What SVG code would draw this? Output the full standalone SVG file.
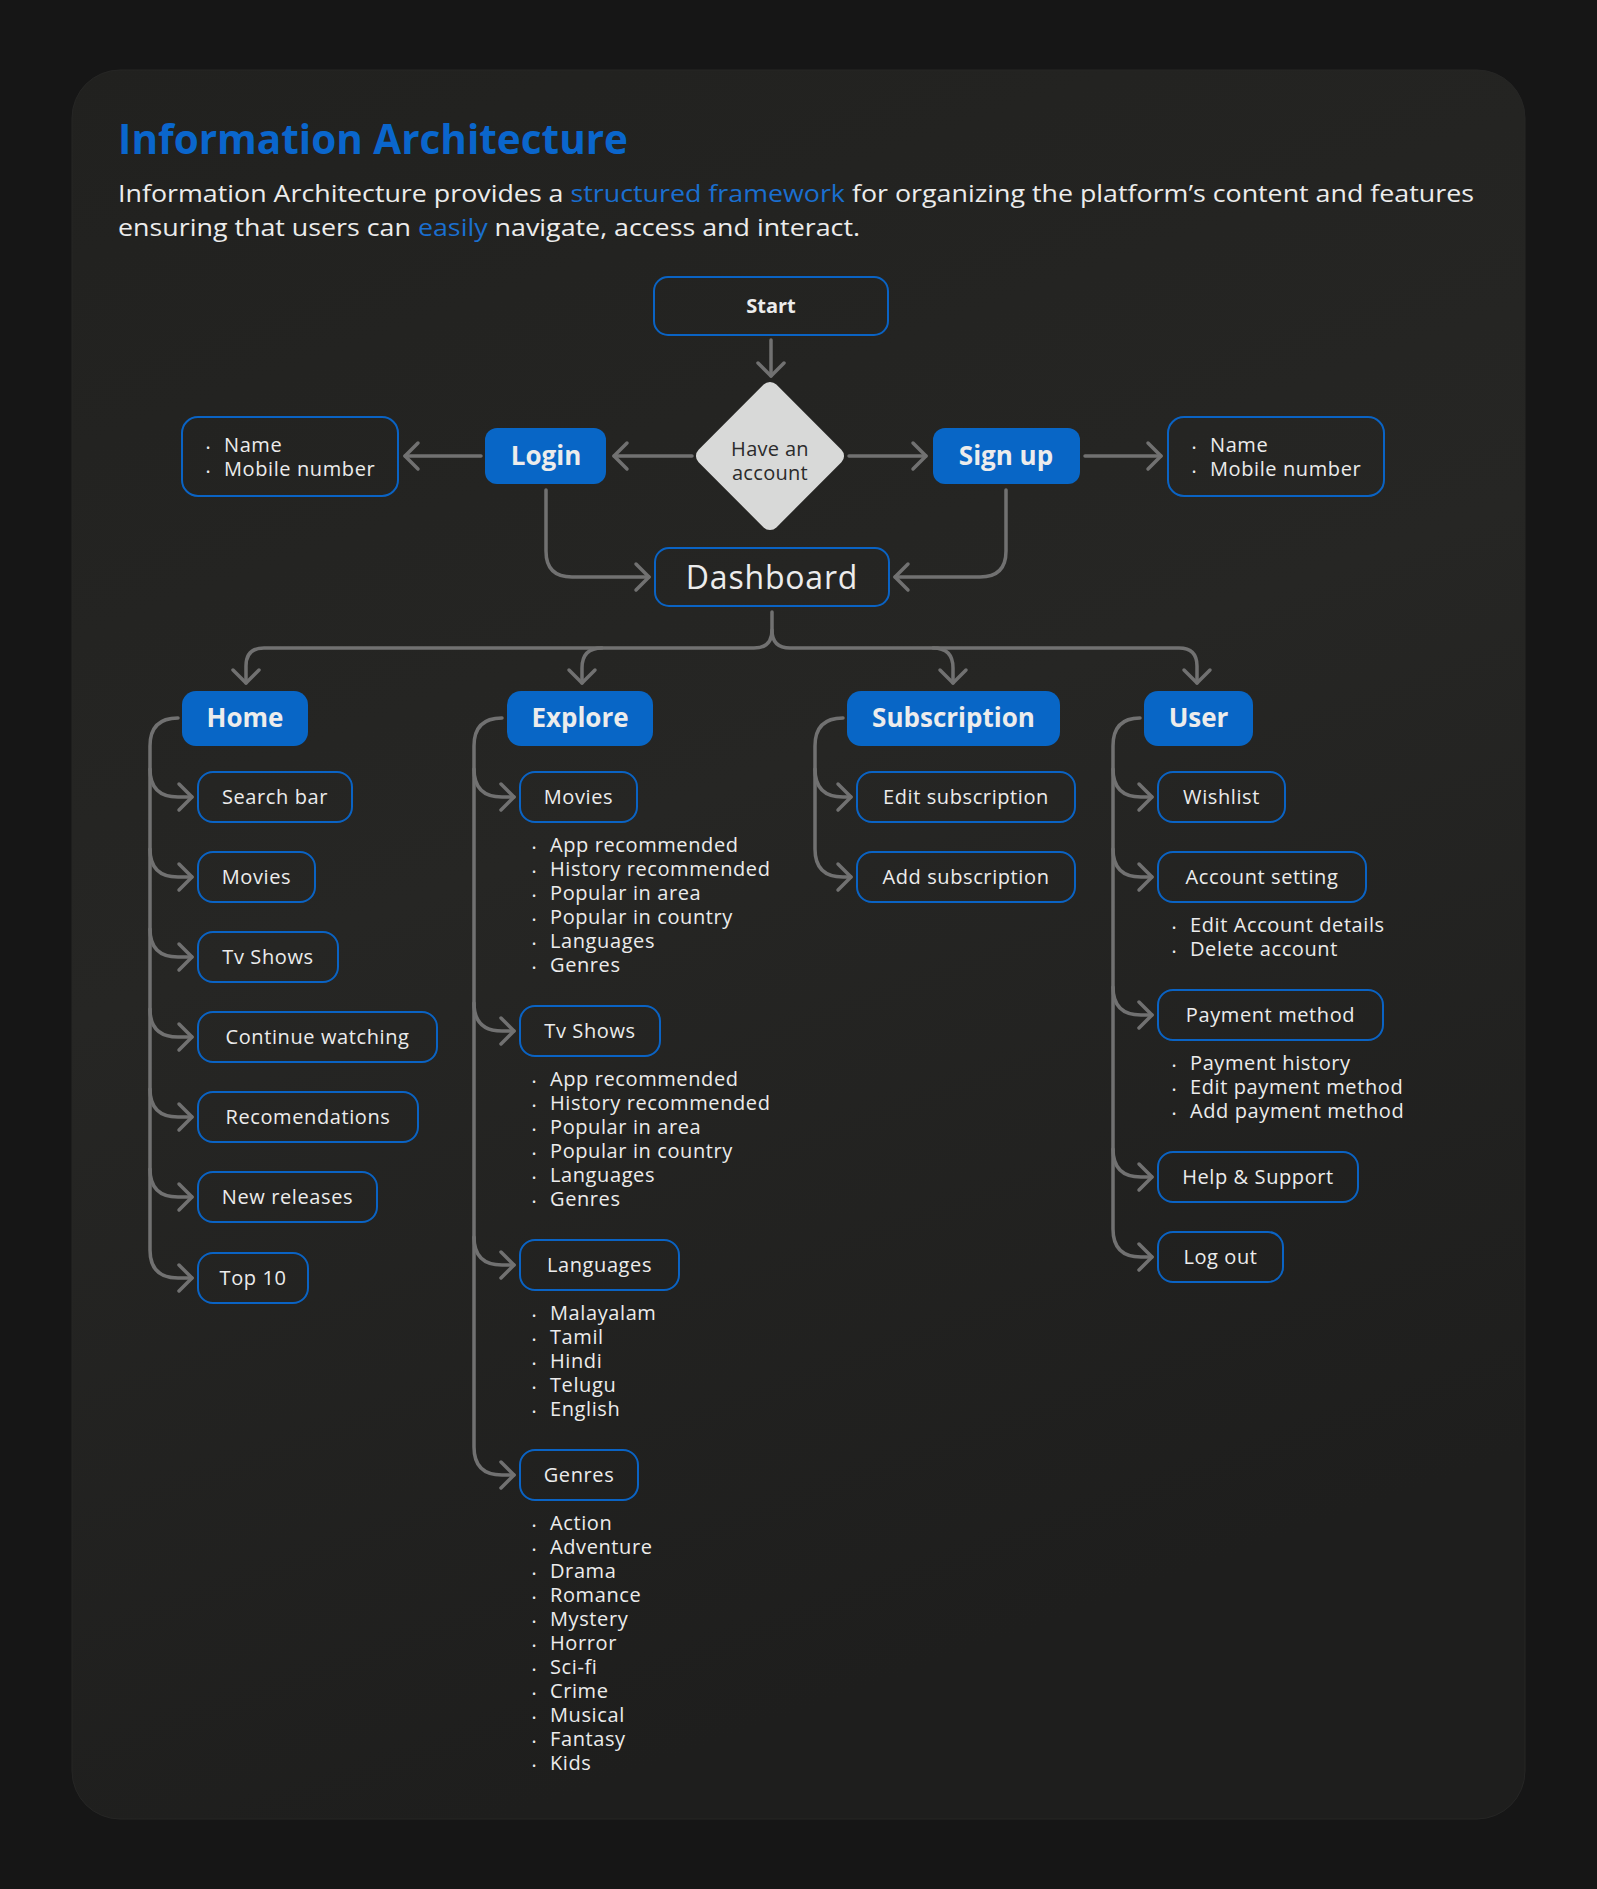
<svg xmlns="http://www.w3.org/2000/svg" width="1597" height="1889" viewBox="0 0 1597 1889">
<defs>
<linearGradient id="cardg" x1="0" y1="0" x2="0.3" y2="1">
<stop offset="0" stop-color="#21211f"/>
<stop offset="0.5" stop-color="#262624"/>
<stop offset="1" stop-color="#1e1e1d"/>
</linearGradient>
<marker id="ar" viewBox="-16 -16 20 32" refX="0" refY="0" markerWidth="20" markerHeight="32" orient="auto" markerUnits="userSpaceOnUse">
<path d="M-13,-13 L0,0 L-13,13" fill="none" stroke="#717171" stroke-width="3.5" stroke-linecap="round" stroke-linejoin="round"/>
</marker>
<style>
.bx{fill:none;stroke:#0a63c4;stroke-width:2}
.hd{fill:#0866c6}
.t{font-family:"Open Sans","Liberation Sans",sans-serif;fill:#ececec;font-size:20px;letter-spacing:0.6px}
.c{text-anchor:middle}
.b{font-weight:700;letter-spacing:0}
.h{font-size:26px}
.dot{font-size:11px}
.cn{fill:none;stroke:#717171;stroke-width:3.5;stroke-linecap:round;stroke-linejoin:round}
.ca{marker-end:url(#ar)}
.bl{fill:#1a6fd0}
.sub{font-size:24px;letter-spacing:0}
</style>
</defs>
<rect x="0" y="0" width="1597" height="1889" fill="#161616"/>
<rect x="72" y="70" width="1453" height="1749" rx="48" fill="url(#cardg)" stroke="#262625" stroke-width="1"/>

<g id="header">
<text class="t b" x="118" y="154" style="fill:#0a66cc;font-size:42px" textLength="510" lengthAdjust="spacingAndGlyphs">Information Architecture</text>
<text class="t sub" x="118" y="202" textLength="1356" lengthAdjust="spacingAndGlyphs">Information Architecture provides a <tspan class="bl">structured framework</tspan> for organizing the platform’s content and features</text>
<text class="t sub" x="118" y="236" textLength="742" lengthAdjust="spacingAndGlyphs">ensuring that users can <tspan class="bl">easily</tspan> navigate, access and interact.</text>
</g>

<g id="connectors">
<path class="cn ca" d="M771,340 V376"/>
<path class="cn ca" d="M692,456 H614"/>
<path class="cn ca" d="M481,456 H405"/>
<path class="cn ca" d="M849,456 H926"/>
<path class="cn ca" d="M1085,456 H1161"/>
<path class="cn ca" d="M546,490 V551 Q546,577 572,577 H649"/>
<path class="cn ca" d="M1006,490 V551 Q1006,577 980,577 H895"/>
<path class="cn ca" d="M772,612 V630 Q772,648 754,648 H264 Q246,648 246,666 V683"/>
<path class="cn ca" d="M772,630 Q772,648 790,648 H1179 Q1197,648 1197,666 V683"/>
<path class="cn ca" d="M602,648 Q582,648 582,668 V683"/>
<path class="cn ca" d="M933,648 Q953,648 953,668 V683"/>
<path class="cn ca" d="M178,718 Q150,718 150,746 V1250 Q150,1278 178,1278 H192"/>
<path class="cn ca" d="M150,769 Q150,797 178,797 H192"/>
<path class="cn ca" d="M150,849 Q150,877 178,877 H192"/>
<path class="cn ca" d="M150,929 Q150,957 178,957 H192"/>
<path class="cn ca" d="M150,1009 Q150,1037 178,1037 H192"/>
<path class="cn ca" d="M150,1089 Q150,1117 178,1117 H192"/>
<path class="cn ca" d="M150,1169 Q150,1197 178,1197 H192"/>
<path class="cn ca" d="M502,718 Q474,718 474,746 V1447 Q474,1475 502,1475 H514"/>
<path class="cn ca" d="M474,769 Q474,797 502,797 H514"/>
<path class="cn ca" d="M474,1003 Q474,1031 502,1031 H514"/>
<path class="cn ca" d="M474,1237 Q474,1265 502,1265 H514"/>
<path class="cn ca" d="M843,718 Q815,718 815,746 V849 Q815,877 843,877 H851"/>
<path class="cn ca" d="M815,769 Q815,797 843,797 H851"/>
<path class="cn ca" d="M1140,718 Q1113,718 1113,746 V1229 Q1113,1257 1141,1257 H1152"/>
<path class="cn ca" d="M1113,769 Q1113,797 1141,797 H1152"/>
<path class="cn ca" d="M1113,849 Q1113,877 1141,877 H1152"/>
<path class="cn ca" d="M1113,987 Q1113,1015 1141,1015 H1152"/>
<path class="cn ca" d="M1113,1149 Q1113,1177 1141,1177 H1152"/>
</g>

<g id="start"><rect class="bx" x="654" y="277" width="234" height="58" rx="14"/><text class="t b c" x="771" y="313">Start</text></g>
<g id="decision"><rect x="-55" y="-55" width="110" height="110" rx="9" fill="#d8d9d8" transform="translate(770,456) rotate(45)"/>
<text class="t c" x="770" y="456" style="fill:#2b2b2b;letter-spacing:0.3px">Have an</text><text class="t c" x="770" y="480" style="fill:#2b2b2b;letter-spacing:0.3px">account</text></g>
<g id="login"><rect class="hd" x="485" y="428" width="121" height="56" rx="12"/><text class="t b c h" x="546" y="465">Login</text></g>
<g id="signup"><rect class="hd" x="933" y="428" width="147" height="56" rx="12"/><text class="t b c h" x="1006" y="465">Sign up</text></g>
<g id="login-fields"><rect class="bx" x="182" y="417" width="216" height="79" rx="16"/>
<text class="t" x="206" y="452"><tspan class="dot">•</tspan><tspan x="224">Name</tspan></text>
<text class="t" x="206" y="476"><tspan class="dot">•</tspan><tspan x="224">Mobile number</tspan></text></g>
<g id="signup-fields"><rect class="bx" x="1168" y="417" width="216" height="79" rx="16"/>
<text class="t" x="1192" y="452"><tspan class="dot">•</tspan><tspan x="1210">Name</tspan></text>
<text class="t" x="1192" y="476"><tspan class="dot">•</tspan><tspan x="1210">Mobile number</tspan></text></g>
<g id="dashboard"><rect class="bx" x="655" y="548" width="234" height="58" rx="14"/><text class="t c" x="772" y="589" style="font-size:32px;letter-spacing:0.8px">Dashboard</text></g>

<g id="home"><rect class="hd" x="182" y="691" width="126" height="55" rx="14"/><text class="t b c h" x="245" y="727">Home</text></g>
<g id="home-search"><rect class="bx" x="198" y="772" width="154" height="50" rx="15"/><text class="t c" x="275" y="804">Search bar</text></g>
<g id="home-movies"><rect class="bx" x="198" y="852" width="117" height="50" rx="15"/><text class="t c" x="256.5" y="884">Movies</text></g>
<g id="home-tv"><rect class="bx" x="198" y="932" width="140" height="50" rx="15"/><text class="t c" x="268" y="964">Tv Shows</text></g>
<g id="home-continue"><rect class="bx" x="198" y="1012" width="239" height="50" rx="15"/><text class="t c" x="317.5" y="1044">Continue watching</text></g>
<g id="home-recom"><rect class="bx" x="198" y="1092" width="220" height="50" rx="15"/><text class="t c" x="308" y="1124">Recomendations</text></g>
<g id="home-new"><rect class="bx" x="198" y="1172" width="179" height="50" rx="15"/><text class="t c" x="287.5" y="1204">New releases</text></g>
<g id="home-top"><rect class="bx" x="198" y="1253" width="110" height="50" rx="15"/><text class="t c" x="253" y="1285">Top 10</text></g>

<g id="explore"><rect class="hd" x="507" y="691" width="146" height="55" rx="14"/><text class="t b c h" x="580" y="727">Explore</text></g>
<g id="explore-movies"><rect class="bx" x="520" y="772" width="117" height="50" rx="15"/><text class="t c" x="578.5" y="804">Movies</text>
<text class="t" x="532" y="852"><tspan class="dot">•</tspan><tspan x="550">App recommended</tspan></text>
<text class="t" x="532" y="876"><tspan class="dot">•</tspan><tspan x="550">History recommended</tspan></text>
<text class="t" x="532" y="900"><tspan class="dot">•</tspan><tspan x="550">Popular in area</tspan></text>
<text class="t" x="532" y="924"><tspan class="dot">•</tspan><tspan x="550">Popular in country</tspan></text>
<text class="t" x="532" y="948"><tspan class="dot">•</tspan><tspan x="550">Languages</tspan></text>
<text class="t" x="532" y="972"><tspan class="dot">•</tspan><tspan x="550">Genres</tspan></text></g>
<g id="explore-tv"><rect class="bx" x="520" y="1006" width="140" height="50" rx="15"/><text class="t c" x="590" y="1038">Tv Shows</text>
<text class="t" x="532" y="1086"><tspan class="dot">•</tspan><tspan x="550">App recommended</tspan></text>
<text class="t" x="532" y="1110"><tspan class="dot">•</tspan><tspan x="550">History recommended</tspan></text>
<text class="t" x="532" y="1134"><tspan class="dot">•</tspan><tspan x="550">Popular in area</tspan></text>
<text class="t" x="532" y="1158"><tspan class="dot">•</tspan><tspan x="550">Popular in country</tspan></text>
<text class="t" x="532" y="1182"><tspan class="dot">•</tspan><tspan x="550">Languages</tspan></text>
<text class="t" x="532" y="1206"><tspan class="dot">•</tspan><tspan x="550">Genres</tspan></text></g>
<g id="explore-languages"><rect class="bx" x="520" y="1240" width="159" height="50" rx="15"/><text class="t c" x="599.5" y="1272">Languages</text>
<text class="t" x="532" y="1320"><tspan class="dot">•</tspan><tspan x="550">Malayalam</tspan></text>
<text class="t" x="532" y="1344"><tspan class="dot">•</tspan><tspan x="550">Tamil</tspan></text>
<text class="t" x="532" y="1368"><tspan class="dot">•</tspan><tspan x="550">Hindi</tspan></text>
<text class="t" x="532" y="1392"><tspan class="dot">•</tspan><tspan x="550">Telugu</tspan></text>
<text class="t" x="532" y="1416"><tspan class="dot">•</tspan><tspan x="550">English</tspan></text></g>
<g id="explore-genres"><rect class="bx" x="520" y="1450" width="118" height="50" rx="15"/><text class="t c" x="579" y="1482">Genres</text>
<text class="t" x="532" y="1530"><tspan class="dot">•</tspan><tspan x="550">Action</tspan></text>
<text class="t" x="532" y="1554"><tspan class="dot">•</tspan><tspan x="550">Adventure</tspan></text>
<text class="t" x="532" y="1578"><tspan class="dot">•</tspan><tspan x="550">Drama</tspan></text>
<text class="t" x="532" y="1602"><tspan class="dot">•</tspan><tspan x="550">Romance</tspan></text>
<text class="t" x="532" y="1626"><tspan class="dot">•</tspan><tspan x="550">Mystery</tspan></text>
<text class="t" x="532" y="1650"><tspan class="dot">•</tspan><tspan x="550">Horror</tspan></text>
<text class="t" x="532" y="1674"><tspan class="dot">•</tspan><tspan x="550">Sci-fi</tspan></text>
<text class="t" x="532" y="1698"><tspan class="dot">•</tspan><tspan x="550">Crime</tspan></text>
<text class="t" x="532" y="1722"><tspan class="dot">•</tspan><tspan x="550">Musical</tspan></text>
<text class="t" x="532" y="1746"><tspan class="dot">•</tspan><tspan x="550">Fantasy</tspan></text>
<text class="t" x="532" y="1770"><tspan class="dot">•</tspan><tspan x="550">Kids</tspan></text></g>

<g id="subscription"><rect class="hd" x="847" y="691" width="213" height="55" rx="14"/><text class="t b c h" x="953.5" y="727">Subscription</text></g>
<g id="sub-edit"><rect class="bx" x="857" y="772" width="218" height="50" rx="15"/><text class="t c" x="966" y="804">Edit subscription</text></g>
<g id="sub-add"><rect class="bx" x="857" y="852" width="218" height="50" rx="15"/><text class="t c" x="966" y="884">Add subscription</text></g>

<g id="user"><rect class="hd" x="1144" y="691" width="109" height="55" rx="14"/><text class="t b c h" x="1198.5" y="727">User</text></g>
<g id="user-wishlist"><rect class="bx" x="1158" y="772" width="127" height="50" rx="15"/><text class="t c" x="1221.5" y="804">Wishlist</text></g>
<g id="user-account"><rect class="bx" x="1158" y="852" width="208" height="50" rx="15"/><text class="t c" x="1262" y="884">Account setting</text>
<text class="t" x="1172" y="932"><tspan class="dot">•</tspan><tspan x="1190">Edit Account details</tspan></text>
<text class="t" x="1172" y="956"><tspan class="dot">•</tspan><tspan x="1190">Delete account</tspan></text></g>
<g id="user-payment"><rect class="bx" x="1158" y="990" width="225" height="50" rx="15"/><text class="t c" x="1270.5" y="1022">Payment method</text>
<text class="t" x="1172" y="1070"><tspan class="dot">•</tspan><tspan x="1190">Payment history</tspan></text>
<text class="t" x="1172" y="1094"><tspan class="dot">•</tspan><tspan x="1190">Edit payment method</tspan></text>
<text class="t" x="1172" y="1118"><tspan class="dot">•</tspan><tspan x="1190">Add payment method</tspan></text></g>
<g id="user-help"><rect class="bx" x="1158" y="1152" width="200" height="50" rx="15"/><text class="t c" x="1258" y="1184">Help &amp; Support</text></g>
<g id="user-logout"><rect class="bx" x="1158" y="1232" width="125" height="50" rx="15"/><text class="t c" x="1220.5" y="1264">Log out</text></g>
</svg>
